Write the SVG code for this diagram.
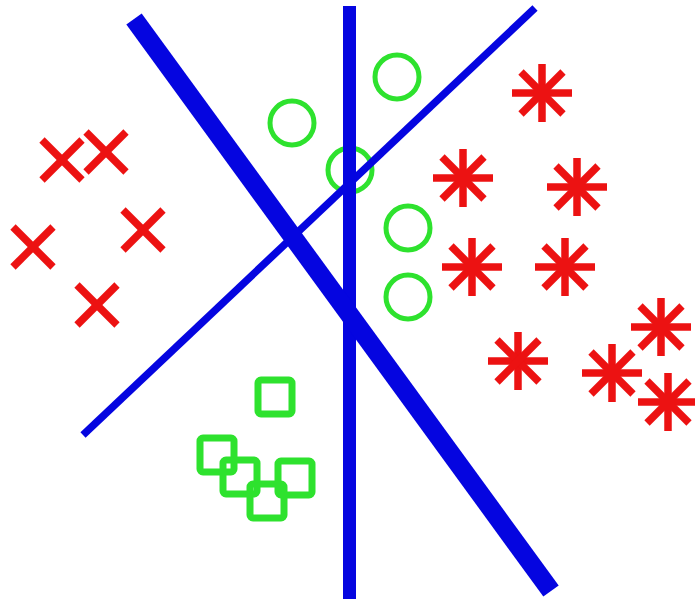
<svg xmlns="http://www.w3.org/2000/svg" xmlns:xlink="http://www.w3.org/1999/xlink" width="695" height="610" viewBox="0 0 695 610">
  <style>
    .red { stroke: #ec1212; stroke-width: 7.5; fill: none; }
    .grn { stroke: #2ee22e; fill: none; }
    .blue { stroke: #0505e0; fill: none; }
  </style>
  <defs>
    <g id="xmark" class="red">
      <line x1="-20" y1="-20" x2="20" y2="20"/>
      <line x1="-20" y1="20" x2="20" y2="-20"/>
    </g>
    <g id="star" class="red">
      <line x1="-30" y1="0" x2="30" y2="0"/>
      <line x1="0" y1="-29" x2="0" y2="29"/>
      <line x1="-21" y1="-21" x2="21" y2="21"/>
      <line x1="-21" y1="21" x2="21" y2="-21"/>
    </g>
    <circle id="ring" r="22" class="grn" stroke-width="5"/>
    <rect id="sq" x="-17" y="-17" width="34" height="34" rx="3" class="grn" stroke-width="7"/>
  </defs>
  <rect width="695" height="610" fill="#ffffff"/>

  <g id="circles">
    <use xlink:href="#ring" x="292" y="123"/>
    <use xlink:href="#ring" x="397" y="77"/>
    <use xlink:href="#ring" x="350" y="170"/>
    <use xlink:href="#ring" x="408" y="228"/>
    <use xlink:href="#ring" x="408" y="297"/>
  </g>

  <g id="crosses">
    <use xlink:href="#xmark" x="62" y="160"/>
    <use xlink:href="#xmark" x="106" y="152"/>
    <use xlink:href="#xmark" x="143" y="230"/>
    <use xlink:href="#xmark" x="33" y="247"/>
    <use xlink:href="#xmark" x="97" y="305"/>
  </g>

  <g id="stars">
    <use xlink:href="#star" x="542" y="93"/>
    <use xlink:href="#star" x="463" y="178"/>
    <use xlink:href="#star" x="577" y="187"/>
    <use xlink:href="#star" x="472" y="267"/>
    <use xlink:href="#star" x="565" y="267"/>
    <use xlink:href="#star" x="518" y="361"/>
    <use xlink:href="#star" x="612" y="373"/>
    <use xlink:href="#star" x="661" y="327"/>
    <use xlink:href="#star" x="668" y="402"/>
  </g>

  <g id="squares">
    <use xlink:href="#sq" x="275" y="397"/>
    <use xlink:href="#sq" x="217" y="455"/>
    <use xlink:href="#sq" x="240" y="477"/>
    <use xlink:href="#sq" x="267" y="501"/>
    <use xlink:href="#sq" x="295" y="478"/>
  </g>

  <g id="lines">
    <line class="blue" x1="83" y1="435" x2="535" y2="8" stroke-width="7.5"/>
    <line class="blue" x1="349.5" y1="6" x2="349.5" y2="599" stroke-width="13"/>
    <line class="blue" x1="134" y1="19" x2="551" y2="591" stroke-width="19"/>
  </g>
</svg>
